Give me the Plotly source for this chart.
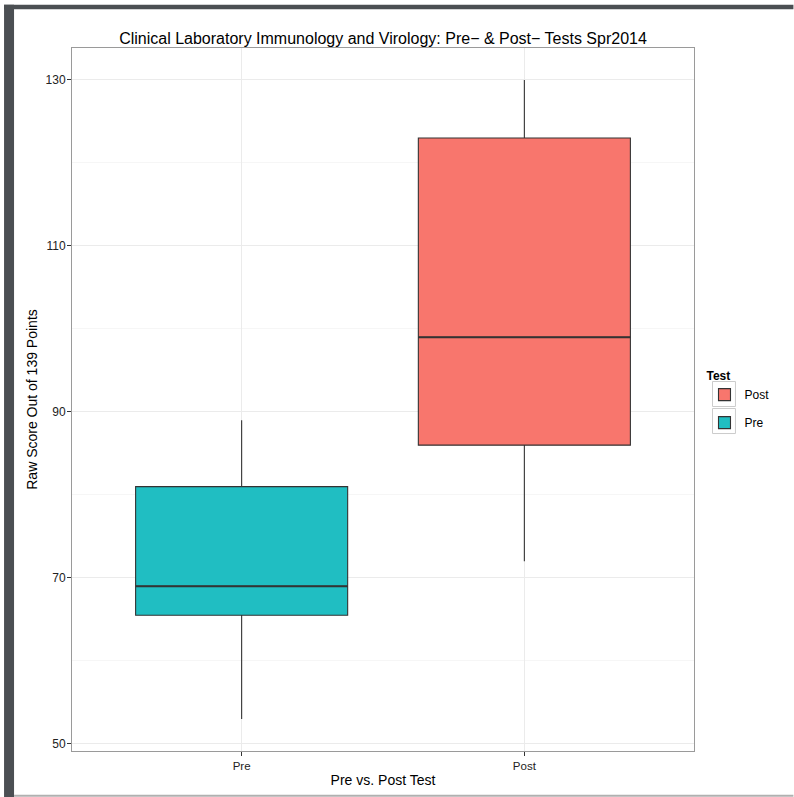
import plotly.graph_objects as go

# ---- data ----
tests = ["Pre", "Post"]
positions = [1, 2]
q1 = [65.5, 86]
median = [69, 99]
q3 = [81, 123]
lower_whisker = [53, 72]
upper_whisker = [89, 130]
fill_colors = {"Pre": "#20BEC2", "Post": "#F8766D"}
y_ticks = [50, 70, 90, 110, 130]

W, H = 794, 797
L, R, T, B = 72, 694.5, 48.3, 750.7
PW, PH = R - L, B - T

def px_x(p):
    return (p - L) / PW

def px_y(p):
    return (B - p) / PH

fig = go.Figure()
BOX_W = 0.75
# legend order: Post, Pre
for name in ["Post", "Pre"]:
    i = tests.index(name)
    fig.add_trace(go.Box(
        x=[positions[i]], q1=[q1[i]], median=[median[i]], q3=[q3[i]],
        lowerfence=[lower_whisker[i]], upperfence=[upper_whisker[i]],
        name=name, legendgroup=name, width=BOX_W, whiskerwidth=0,
        fillcolor=fill_colors[name], line=dict(color="#333333", width=1.1),
        boxpoints=False, hoverinfo="skip",
    ))
for i, name in enumerate(tests):
    fig.add_trace(go.Scatter(
        x=[positions[i] - BOX_W / 2, positions[i] + BOX_W / 2],
        y=[median[i], median[i]], mode="lines",
        line=dict(color="#333333", width=2.2), showlegend=False,
        hoverinfo="skip",
    ))

frame = [
    dict(x0=4, x1=14, y0=5, y1=797, color="#4B4F53"),
    dict(x0=4, x1=794, y0=5, y1=9.5, color="#4B4F53"),
    dict(x0=14, x1=794, y0=794.5, y1=796.5, color="#B0B0B0"),
]
shapes = []
for f in frame:
    shapes.append(dict(type="rect", xref="paper", yref="paper",
                       x0=px_x(f["x0"]), x1=px_x(f["x1"]),
                       y0=px_y(f["y1"]), y1=px_y(f["y0"]),
                       fillcolor=f["color"], line=dict(width=0), layer="above"))
# legend key frames
for cy in [394, 421]:
    shapes.append(dict(type="rect", xref="paper", yref="paper",
                       x0=px_x(713), x1=px_x(736),
                       y0=px_y(cy + 12.5), y1=px_y(cy - 12.5),
                       line=dict(color="#CCCCCC", width=1), layer="above"))

font_family = "Liberation Sans, Arial, sans-serif"
fig.update_layout(
    width=W, height=H, autosize=False,
    margin=dict(l=L, r=W - R, t=T, b=H - B, pad=0),
    paper_bgcolor="white", plot_bgcolor="white",
    font=dict(family=font_family, color="#000000", size=12),
    title=dict(text="Clinical Laboratory Immunology and Virology: Pre\u2212 &amp; Post\u2212 Tests Spr2014",
               x=0.5, xref="paper", xanchor="center",
               y=1 - 38.5 / H, yref="container", yanchor="middle",
               font=dict(size=16, color="#000000")),
    showlegend=True,
    legend=dict(x=px_x(705), xanchor="left", y=px_y(401), yanchor="middle",
                title=dict(text="<b>Test</b>", font=dict(size=12)),
                font=dict(size=12), tracegroupgap=9,
                bgcolor="rgba(0,0,0,0)", itemwidth=30),
    shapes=shapes,
)
fig.update_xaxes(
    range=[0.4, 2.6], tickvals=positions, ticktext=tests,
    showgrid=True, gridcolor="#EBEBEB", gridwidth=1, zeroline=False,
    showline=True, mirror=True, linecolor="#9A9A9A", linewidth=1,
    ticks="outside", ticklen=4, tickcolor="#333333", tickwidth=1,
    tickfont=dict(size=11.5, color="#222222"),
    title=dict(text="Pre vs. Post Test", font=dict(size=14), standoff=4),
)
fig.update_yaxes(
    range=[49.15, 133.85], tickvals=y_ticks,
    showgrid=True, gridcolor="#EBEBEB", gridwidth=1, zeroline=False,
    minor=dict(dtick=10, tick0=50, showgrid=True, gridcolor="#F6F6F6", gridwidth=1),
    showline=True, mirror=True, linecolor="#9A9A9A", linewidth=1,
    ticks="outside", ticklen=4, tickcolor="#333333", tickwidth=1,
    ticklabelstandoff=-1,
    tickfont=dict(size=12, color="#222222"),
    title=dict(text="Raw Score Out of 139 Points", font=dict(size=14), standoff=4),
)

fig.write_html("out.html", config={"displayModeBar": False},
               post_script="document.body.style.margin='0';document.body.style.overflow='hidden';")
